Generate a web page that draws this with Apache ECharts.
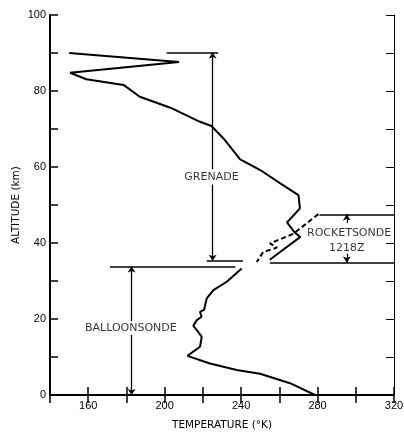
<!DOCTYPE html>
<html>
<head>
<meta charset="utf-8">
<script src="https://cdn.jsdelivr.net/npm/echarts@6/dist/echarts.min.js"></script>
<style>
html,body{margin:0;padding:0;background:#fff;}
#chart{width:404px;height:432px;}
</style>
</head>
<body>
<div id="chart"></div>
<script>
// Grenade profile (solid, upper)
var grenadeT   = [150, 207.5, 150.5, 159, 178.5, 187, 203, 218.5, 224.5, 231.5, 239.5, 250, 260.5, 270, 270.8, 264, 268, 271, 255];
var grenadeAlt = [90, 87.6, 84.8, 83.1, 81.6, 78.5, 75.6, 71.9, 70.8, 67.1, 62, 59.2, 55.7, 52.6, 49.1, 45.4, 42.8, 41.6, 35.6];
// Balloonsonde profile (solid, lower)
var balloonT   = [240.3, 232.5, 225.5, 222, 220.6, 218.5, 219.3, 216.8, 215, 216.8, 219.4, 218.5, 211.9, 223.7, 237.7, 249.9, 265.6, 278.7];
var balloonAlt = [33.3, 29.8, 27.6, 25.4, 22.4, 21.9, 20.6, 19.7, 18.2, 17.1, 15.3, 12.7, 10.3, 8.3, 6.6, 5.6, 3.1, 0];
// Rocketsonde profile (dashed)
var rocketT   = [280.4, 267.3, 255.1, 258.8, 251.5, 248.2];
var rocketAlt = [47.6, 42.4, 39.9, 38.8, 37.6, 35.0];
// Axis ticks
var xTickLabels = [160, 200, 240, 280, 320];
var yTickLabels = [0, 20, 40, 60, 80, 100];

function pairs(xs, ys){ return xs.map(function(x,i){ return [x, ys[i]]; }); }

var FONT = 'DejaVu Sans';
var annotStyle = {show:true, position:'inside', color:'#000', fontFamily:FONT, fontSize:11};

function seg(x1,y1,x2,y2){ return [{coord:[x1,y1]},{coord:[x2,y2]}]; }

var chart = echarts.init(document.getElementById('chart'), null, {renderer:'canvas'});
chart.setOption({
  animation:false,
  backgroundColor:'#fff',
  grid:{left:50, right:10, top:15, bottom:37, containLabel:false, outerBoundsMode:'none'},
  xAxis:[{
    type:'value', min:140, max:320, interval:20,
    name:'TEMPERATURE (°K)', nameLocation:'middle', nameGap:25, nameMoveOverlap:false,
    nameTextStyle:{fontFamily:FONT, fontSize:10.5, color:'#000'},
    axisLine:{show:true, lineStyle:{color:'#000', width:2}},
    axisTick:{show:true, inside:true, length:8, lineStyle:{color:'#000', width:1.5}},
    axisLabel:{margin:5, fontFamily:'Liberation Sans', fontSize:11, color:'#000',
      formatter:function(v){ return xTickLabels.indexOf(v) >= 0 ? String(v) : ''; }},
    splitLine:{show:false}
  },{
    type:'value', position:'top', min:140, max:320, interval:20,
    axisLine:{show:true, lineStyle:{color:'#000', width:1.5}},
    axisTick:{show:true, inside:true, length:8, lineStyle:{color:'#000', width:1.5}},
    axisLabel:{show:false}, splitLine:{show:false}
  }],
  yAxis:[{
    type:'value', min:0, max:100, interval:10,
    name:'ALTITUDE (km)', nameLocation:'middle', nameGap:28, nameRotate:90, nameMoveOverlap:false,
    nameTextStyle:{fontFamily:FONT, fontSize:10.5, color:'#000'},
    axisLine:{show:true, lineStyle:{color:'#000', width:2}},
    axisTick:{show:true, inside:true, length:8, lineStyle:{color:'#000', width:1.5}},
    axisLabel:{margin:4, fontFamily:'Liberation Sans', fontSize:11, color:'#000',
      formatter:function(v){ return yTickLabels.indexOf(v) >= 0 ? String(v) : ''; }},
    splitLine:{show:false}
  },{
    type:'value', position:'right', min:0, max:100, interval:10,
    axisLine:{show:true, lineStyle:{color:'#000', width:1}},
    axisTick:{show:true, inside:true, length:8, lineStyle:{color:'#000', width:1}},
    axisLabel:{show:false}, splitLine:{show:false}
  }],
  series:[
    {type:'line', data:pairs(grenadeT, grenadeAlt), showSymbol:false, symbol:'none',
     lineStyle:{color:'#000', width:2}},
    {type:'line', data:pairs(balloonT, balloonAlt), showSymbol:false, symbol:'none',
     lineStyle:{color:'#000', width:2}},
    {type:'line', data:pairs(rocketT, rocketAlt), showSymbol:false, symbol:'none',
     lineStyle:{color:'#000', width:2, type:[5,3]}},
    // bracket horizontal lines
    {type:'line', data:[], markLine:{silent:true, symbol:['none','none'], label:{show:false},
      lineStyle:{color:'#000', width:1.5, type:'solid'}, emphasis:{disabled:true},
      data:[
        seg(201, 90.1, 228, 90.1),
        seg(222, 35.3, 241, 35.3),
        seg(171.4, 33.8, 237, 33.8),
        seg(281, 47.5, 320, 47.5),
        seg(255, 34.9, 320, 34.9)
      ]}},
    // bracket arrows
    {type:'line', data:[], markLine:{silent:true, symbol:['none','arrow'], symbolSize:6, label:{show:false},
      lineStyle:{color:'#000', width:1.3, type:'solid'}, emphasis:{disabled:true},
      data:[
        seg(225.1, 59.4, 225.1, 90.1),
        seg(225.1, 55.4, 225.1, 35.3),
        seg(182.7, 19.4, 182.7, 33.8),
        seg(182.7, 15.8, 182.7, 0),
        seg(295.3, 45.3, 295.3, 47.5),
        seg(295.3, 37.2, 295.3, 34.9)
      ]}},
    // annotation texts
    {type:'scatter', symbolSize:1, itemStyle:{color:'rgba(0,0,0,0)'}, silent:true,
     data:[
       {value:[224.5, 57.3], label:Object.assign({}, annotStyle, {formatter:'GRENADE'})},
       {value:[182.3, 17.6], label:Object.assign({}, annotStyle, {formatter:'BALLOONSONDE'})},
       {value:[296.5, 42.5], label:Object.assign({}, annotStyle, {formatter:'ROCKETSONDE'})},
       {value:[295.3, 38.6], label:Object.assign({}, annotStyle, {formatter:'1218Z'})}
     ]}
  ]
});
</script>
</body>
</html>
